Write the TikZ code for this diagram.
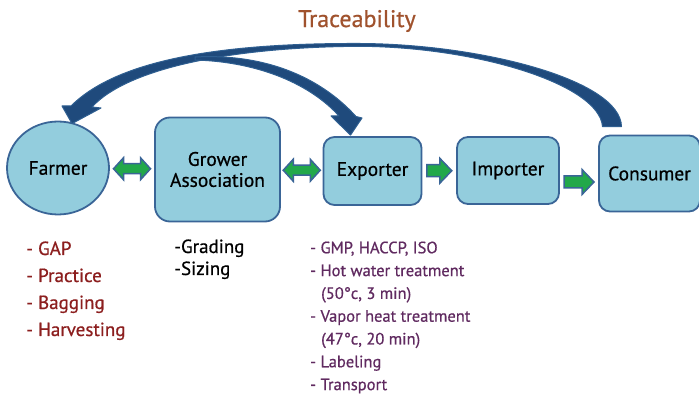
\documentclass[tikz,border=0pt]{standalone}
\usepackage{fontspec}
\setmainfont{PT Sans}[BoldFont={PT Sans},BoldFeatures={FakeBold=0.6}]
\usetikzlibrary{calc,shapes.geometric}
\definecolor{boxfill}{RGB}{147,205,221}
\definecolor{boxline}{RGB}{58,101,151}
\definecolor{arcfill}{RGB}{31,74,124}
\definecolor{arcline}{RGB}{47,95,145}
\definecolor{greenfill}{RGB}{34,168,74}
\definecolor{tracecol}{RGB}{160,82,45}
\definecolor{farmcol}{RGB}{140,30,30}
\definecolor{expcol}{RGB}{96,42,96}
\begin{document}
\begin{tikzpicture}[x=1pt,y=-1pt,
  stagebox/.style={draw=boxline,fill=boxfill,line width=1.8pt,rounded corners=11pt,inner sep=0pt,font=\fontsize{19.5}{23}\selectfont\bfseries,align=center},
  garrow/.style={fill=greenfill,draw=boxline,line width=1.5pt,line join=miter},
  bigarc/.style={fill=arcfill,draw=arcline,line width=1pt,line join=round},
  farmtxt/.style={text=farmcol,font=\fontsize{19}{22}\selectfont\bfseries,inner sep=0pt,anchor=base west},
  growtxt/.style={text=black,font=\fontsize{19}{22}\selectfont\bfseries,inner sep=0pt,anchor=base west},
  exptxt/.style={text=expcol,font=\fontsize{16.5}{20}\selectfont\bfseries,inner sep=0pt,anchor=base west}
]
\useasboundingbox[fill=white] (0,0) rectangle (699,395);
% stages
\node[draw=boxline,fill=boxfill,line width=1.8pt,ellipse,minimum width=102pt,minimum height=93pt,inner sep=0pt,font=\fontsize{19.5}{23}\selectfont\bfseries] (farmer) at (58,168) {Farmer};
\node[stagebox,rounded corners=15pt,minimum width=125pt,minimum height=104pt] (grower) at (217.5,169.5) {Grower\\[-2pt]Association};
\node[stagebox,minimum width=98pt,minimum height=68pt] (exporter) at (372.5,171) {Exporter};
\node[stagebox,minimum width=102pt,minimum height=67pt] (importer) at (508,170.5) {Importer};
\node[stagebox,minimum width=101pt,minimum height=76pt] (consumer) at (649.5,173.5) {Consumer};
% traceability label
\node[text=tracecol,font=\fontsize{24}{28}\selectfont\bfseries,inner sep=0pt] (trace) at (357,21) {Traceability};
% green connectors
\coordinate (m1) at ($(farmer.east)!0.5!(grower.west)$);
\coordinate (m2) at ($(grower.east)!0.5!(exporter.west)$);
\coordinate (m3) at ($(exporter.east)!0.5!(importer.west)$);
\coordinate (m4) at ($(importer.east)!0.5!(consumer.west)$);
\filldraw[garrow,shift={(m1)}] (-18.5,0) -- (-8.5,-11) -- (-8.5,-5) -- (8.5,-5) -- (8.5,-11) -- (18.5,0) -- (8.5,11) -- (8.5,5) -- (-8.5,5) -- (-8.5,11) -- cycle;
\filldraw[garrow,shift={(m2)}] (-18.5,0) -- (-8.5,-11) -- (-8.5,-5) -- (8.5,-5) -- (8.5,-11) -- (18.5,0) -- (8.5,11) -- (8.5,5) -- (-8.5,5) -- (-8.5,11) -- cycle;
\filldraw[garrow,shift={(m3)}] (-12.5,-6) -- (0.5,-6) -- (0.5,-12.5) -- (12.5,0) -- (0.5,12.5) -- (0.5,6) -- (-12.5,6) -- cycle;
\filldraw[garrow,shift={($(m4)+(0,10)$)}] (-15,-6) -- (3,-6) -- (3,-12.5) -- (15,0) -- (3,12.5) -- (3,6) -- (-15,6) -- cycle;
% traceability arcs
\coordinate (ftip) at ($(farmer.north)+(14,3)$);
\coordinate (etip) at ($(exporter.north)+(-22,-1)$);
\coordinate (cbase) at ($(consumer.north)+(-38,-8)$);
\filldraw[bigarc] ($(cbase)+(10,0)$) .. controls ($(cbase)+(9,-47)$) and (480,44) .. (360,43.5)
  .. controls (232,43) and (120,57) .. (71,106)
  -- (62,106) -- (ftip) -- (101,108) -- (92,107)
  .. controls (128,68) and (232,47) .. (360,46.3)
  .. controls (478,47) and ($(cbase)+(-12,-42)$) .. ($(cbase)+(-9,0)$) -- cycle;
\filldraw[bigarc] (195,57) .. controls (272,53) and (325,82) .. (356,116.5)
  -- (362,118) -- (etip) -- (331,116) -- (339,116)
  .. controls (312,86) and (262,62) .. (195,60) -- cycle;
% lists
\foreach \t [count=\i from 0] in {GAP,Practice,Bagging,Harvesting}
  \node[farmtxt] (fl\i) at (26,255+27*\i) {- \t};
\node[growtxt] (gl0) at (174,253) {-Grading};
\node[growtxt] (gl1) at (174,275) {-Sizing};
\node[exptxt] (el0) at (310,253.3) {- GMP, HACCP, ISO};
\node[exptxt] (el1) at (310,276.1) {- Hot water treatment};
\node[exptxt] (el2) at (321,298.9) {(50°c, 3 min)};
\node[exptxt] (el3) at (310,321.7) {- Vapor heat treatment};
\node[exptxt] (el4) at (321,344.5) {(47°c, 20 min)};
\node[exptxt] (el5) at (310,367.3) {- Labeling};
\node[exptxt] (el6) at (310,390.1) {- Transport};
\end{tikzpicture}
\end{document}
